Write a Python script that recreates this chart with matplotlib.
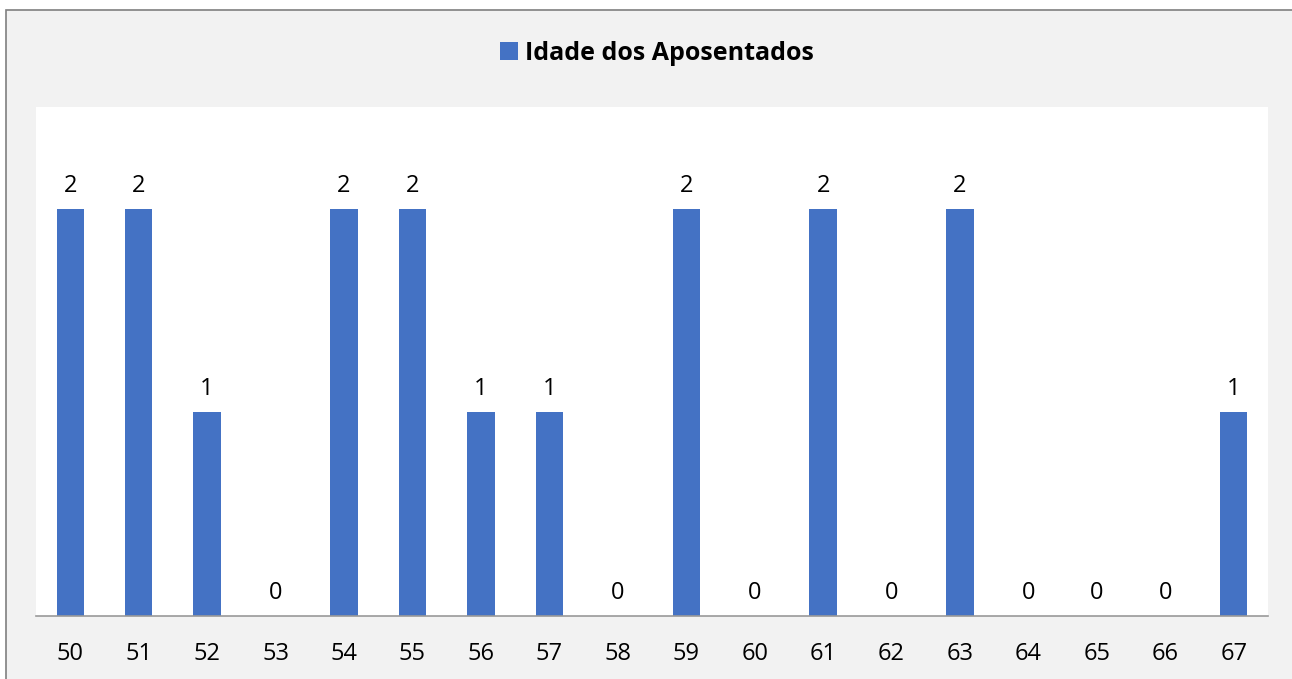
import numpy as np
import matplotlib.pyplot as plt
from matplotlib.patches import Rectangle

idades = ['50', '51', '52', '53', '54', '55', '56', '57', '58',
          '59', '60', '61', '62', '63', '64', '65', '66', '67']
quantidade = [2, 2, 1, 0, 2, 2, 1, 1, 0, 2, 0, 2, 0, 2, 0, 0, 0, 1]

azul = '#4472C4'
plt.rcParams['font.family'] = ['Open Sans', 'DejaVu Sans']

W, H = 1292, 679
fig = plt.figure(figsize=(W / 100, H / 100), dpi=100)
fig.patch.set_facecolor('white')

# fundo cinza com borda (estilo Excel)
fig.patches.append(Rectangle((6 / W, -0.01), 1.0, (H - 10) / H + 0.01,
                             transform=fig.transFigure, facecolor='#f2f2f2',
                             edgecolor='#7f7f7f', linewidth=1.2, zorder=-10))

ax = fig.add_axes([36 / W, (H - 616) / H, 1232 / W, 509 / H])
ax.set_facecolor('white')
x = np.arange(len(idades))
bars = ax.bar(x, quantidade, width=0.4, color=azul, label='Idade dos Aposentados')
ax.set_xlim(-0.5, len(idades) - 0.5)
ax.set_ylim(0, 2.5)
ax.set_yticks([])
ax.set_xticks(x)
ax.set_xticklabels(idades, fontsize=17)
ax.tick_params(axis='x', length=0, pad=19)
for s in ['top', 'right', 'left']:
    ax.spines[s].set_visible(False)
ax.spines['bottom'].set_color('#999999')
ax.spines['bottom'].set_linewidth(1.2)

for xi, v in zip(x, quantidade):
    ax.annotate(str(v), (xi, v), xytext=(0, 16.5), textcoords='offset points',
                ha='center', va='center', fontsize=17)

fig.legend(handles=[bars], labels=['Idade dos Aposentados'], loc='center',
           bbox_to_anchor=(657 / W, 1 - 53 / H), frameon=False,
           prop={'size': 18, 'weight': 'bold'}, handlelength=0.7,
           handleheight=0.7, handletextpad=0.3)

fig.savefig('out.png', dpi=100)
